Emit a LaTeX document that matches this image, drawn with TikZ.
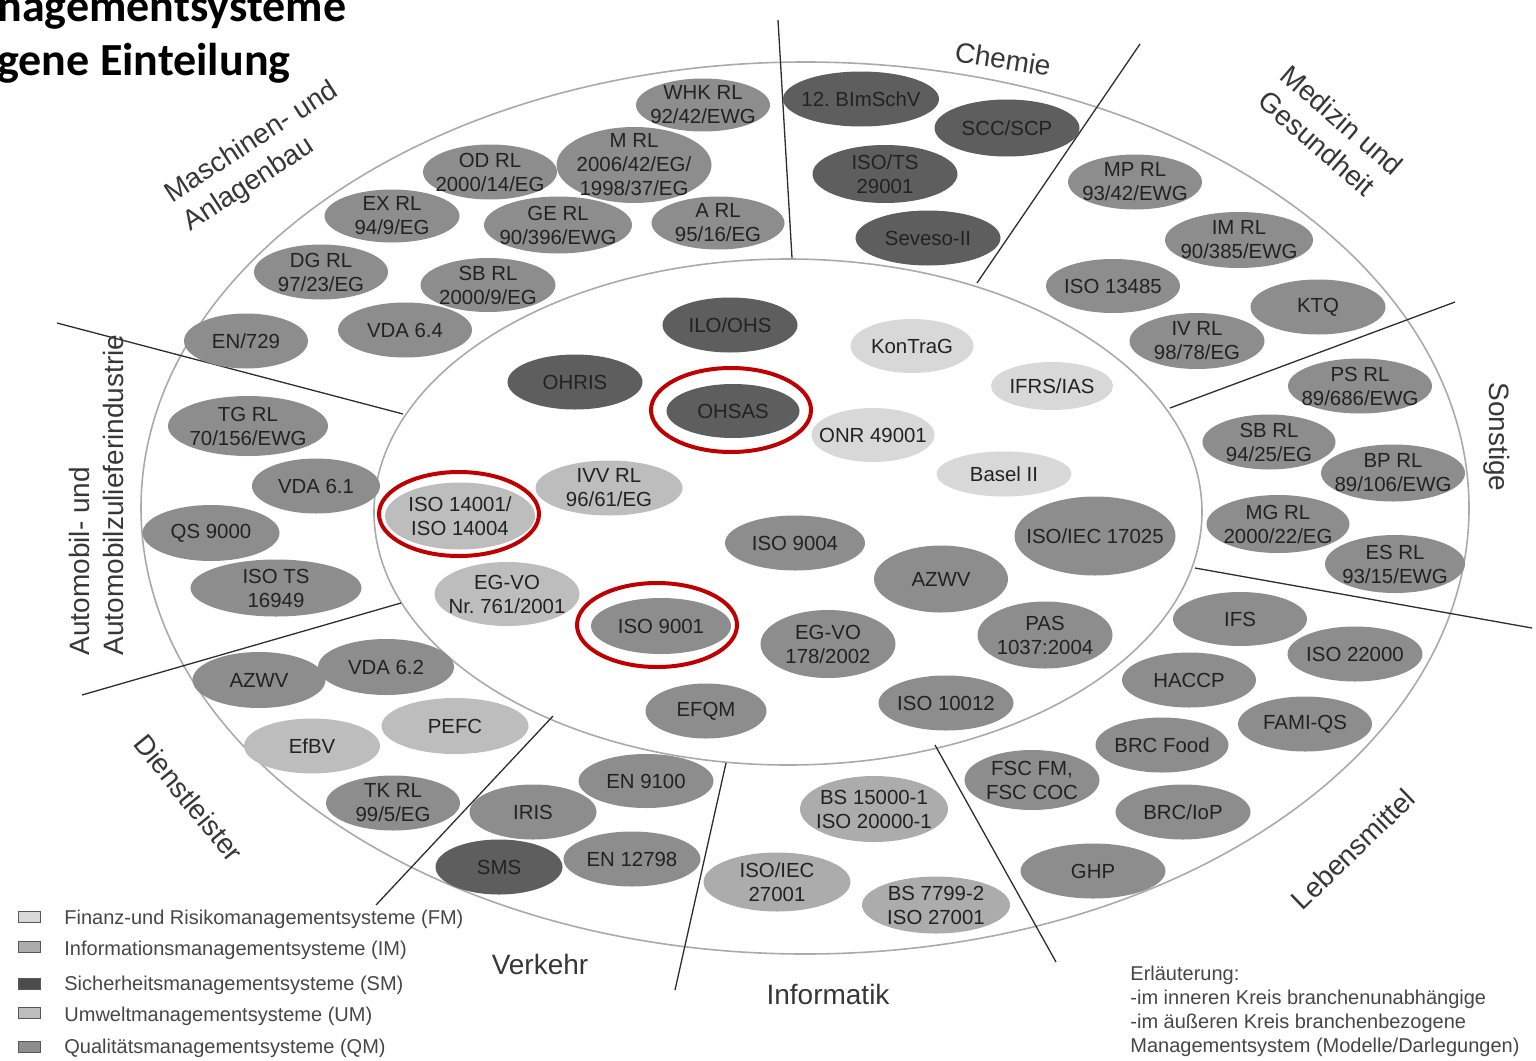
\documentclass[tikz,border=0pt]{standalone}
\usepackage{fontspec}
\setmainfont{Liberation Sans}
\newfontfamily\headfont{Carlito}
\usetikzlibrary{shapes.geometric}

\definecolor{qm}{RGB}{141,141,141}
\definecolor{sm}{RGB}{94,94,94}
\definecolor{um}{RGB}{189,189,189}
\definecolor{im}{RGB}{172,172,172}
\definecolor{fm}{RGB}{216,216,216}
\definecolor{labeltext}{RGB}{34,34,34}
\definecolor{sectortext}{RGB}{55,55,55}
\definecolor{legendtext}{RGB}{70,70,70}
\definecolor{ringgray}{RGB}{170,170,170}
\definecolor{divgray}{RGB}{45,45,45}
\definecolor{hlred}{RGB}{192,0,0}

\tikzset{
  lbl/.style={align=center, inner sep=0pt, text=labeltext,
    font=\fontsize{10.2}{12}\selectfont},
  sector/.style={align=left, inner sep=0pt, text=sectortext,
    font=\fontsize{14}{17}\selectfont},
  ring/.style={draw=ringgray, line width=0.8pt},
  divider/.style={draw=divgray, line width=0.65pt},
  hl/.style={ellipse, draw=hlred, line width=2pt, inner sep=0pt,
    minimum width=80pt, minimum height=42pt},
  legbox/.style={draw=black!65, line width=0.5pt, inner sep=0pt,
    minimum width=11pt, minimum height=5.5pt},
  legtext/.style={anchor=base west, inner sep=0pt, text=legendtext,
    font=\fontsize{10}{12}\selectfont},
  headline/.style={anchor=base west, inner sep=0pt,
    font=\headfont\bfseries\fontsize{23}{28}\selectfont},
}

% \ov{name}{x}{y}{width}{height}{fill}{text}: a filled oval with its caption
\newcommand\ov[7]{%
  \pgfmathsetlengthmacro\ovrx{#4*0.25pt}%
  \pgfmathsetlengthmacro\ovry{#5*0.25pt}%
  \fill[#6] (#2,#3) ellipse [x radius=\ovrx, y radius=\ovry];
  \node[lbl] (#1) at (#2,#3) {#7};}

\begin{document}
\begin{tikzpicture}[x=0.5pt,y=-0.5pt]
\useasboundingbox (0,0) rectangle (1536,1060);

% title lines
\node[headline] (head1) at (-3,21) {nagementsysteme};
\node[headline] (head2) at (-3,75) {gene Einteilung};

% the two rings
\draw[ring] (805,508) ellipse [x radius=332pt, y radius=223pt];
\draw[ring] (788,512) ellipse [x radius=207pt, y radius=126.5pt];

% sector dividers
\coordinate (d1a) at (778,20);   \coordinate (d1b) at (792,258);
\coordinate (d2a) at (1140,44);  \coordinate (d2b) at (977,283);
\coordinate (d3a) at (1455,302); \coordinate (d3b) at (1170,408);
\coordinate (d4a) at (1195,568); \coordinate (d4b) at (1532,628);
\coordinate (d5a) at (935,745);  \coordinate (d5b) at (1056,962);
\coordinate (d6a) at (726,763);  \coordinate (d6b) at (675,990);
\coordinate (d7a) at (553,716);  \coordinate (d7b) at (376,905);
\coordinate (d8a) at (401,603);  \coordinate (d8b) at (82,695);
\coordinate (d9a) at (57,323);   \coordinate (d9b) at (403,414);
\foreach \s in {1,...,9} \draw[divider] (d\s a) -- (d\s b);

% sector captions
\node[sector, rotate=33] (capmasch) at (261,157) {Maschinen- und\\Anlagenbau};
\node[sector, rotate=-9] (capchem) at (1003,59) {Chemie};
\node[sector, rotate=-41] (capmed) at (1331,133) {Medizin und\\Gesundheit};
\node[sector, rotate=-90] (capsonst) at (1497,437) {Sonstige};
\node[sector, rotate=44] (capleb) at (1353,849) {Lebensmittel};
\node[sector] (capinf) at (828,994) {Informatik};
\node[sector] (capverk) at (540,964) {Verkehr};
\node[sector, rotate=-51] (capdienst) at (189,798) {Dienstleister};
\node[sector, rotate=90] (capauto) at (96,495) {Automobil- und\\Automobilzulieferindustrie};

% Maschinen- und Anlagenbau
\ov{whk}{703}{105}{134}{53}{qm}{WHK RL\\92/42/EWG}
\ov{mrl}{634}{165}{155}{76}{qm}{M RL\\2006/42/EG/\\1998/37/EG}
\ov{odrl}{490}{172}{134}{55}{qm}{OD RL\\2000/14/EG}
\ov{exrl}{392}{216}{135}{53}{qm}{EX RL\\94/9/EG}
\ov{gerl}{558}{225}{148}{57}{qm}{GE RL\\90/396/EWG}
\ov{arl}{718}{223}{133}{53}{qm}{A RL\\95/16/EG}
\ov{dgrl}{321}{272}{134}{55}{qm}{DG RL\\97/23/EG}
\ov{sbrlm}{488}{285}{135}{54}{qm}{SB RL\\2000/9/EG}
\ov{vdavier}{405}{330}{134}{55}{qm}{VDA 6.4}
\ov{en}{246}{341}{124}{55}{qm}{EN/729}

% Chemie
\ov{bimsch}{861}{99}{156}{55}{sm}{12.\ BImSchV}
\ov{scc}{1007}{128}{145}{57}{sm}{SCC/SCP}
\ov{isots}{885}{174}{145}{58}{sm}{ISO/TS\\29001}
\ov{seveso}{928}{238}{145}{55}{sm}{Seveso-II}

% Medizin und Gesundheit
\ov{mprl}{1135}{182}{134}{55}{qm}{MP RL\\93/42/EWG}
\ov{imrl}{1239}{240}{148}{56}{qm}{IM RL\\90/385/EWG}
\ov{iso13485}{1113}{286}{134}{54}{qm}{ISO 13485}
\ov{ktq}{1318}{307}{135}{55}{qm}{KTQ}
\ov{ivrl}{1197}{341}{135}{56}{qm}{IV RL\\98/78/EG}

% Sonstige
\ov{psrl}{1360}{386}{144}{55}{qm}{PS RL\\89/686/EWG}
\ov{sbrls}{1269}{442}{133}{55}{qm}{SB RL\\94/25/EG}
\ov{bprl}{1393}{473}{144}{57}{qm}{BP RL\\89/106/EWG}
\ov{mgrl}{1278}{524}{143}{58}{qm}{MG RL\\2000/22/EG}
\ov{esrl}{1395}{564}{140}{58}{qm}{ES RL\\93/15/EWG}

% Lebensmittel
\ov{ifs}{1240}{619}{134}{54}{qm}{IFS}
\ov{isotwentytwo}{1355}{654}{135}{55}{qm}{ISO 22000}
\ov{haccp}{1189}{680}{134}{55}{qm}{HACCP}
\ov{famiqs}{1305}{724}{134}{55}{qm}{FAMI-QS}
\ov{brcfood}{1162}{745}{133}{55}{qm}{BRC Food}
\ov{brciop}{1183}{812}{135}{55}{qm}{BRC/IoP}
\ov{fsc}{1032}{780}{135}{60}{qm}{FSC FM,\\FSC COC}
\ov{ghp}{1093}{871}{145}{55}{qm}{GHP}

% Informatik
\ov{bs}{874}{809}{148}{66}{im}{BS 15000-1\\ISO 20000-1}
\ov{isoiec}{777}{882}{147}{59}{im}{ISO/IEC\\27001}
\ov{bsseven}{936}{905}{148}{57}{im}{BS 7799-2\\ISO 27001}

% Verkehr
\ov{en9100}{646}{781}{135}{54}{qm}{EN 9100}
\ov{iris}{533}{812}{127}{55}{qm}{IRIS}
\ov{en12798}{632}{859}{137}{55}{qm}{EN 12798}
\ov{sms}{499}{867}{127}{55}{sm}{SMS}

% Dienstleister
\ov{azwvd}{259}{680}{133}{56}{qm}{AZWV}
\ov{vdazwei}{386}{667}{136}{56}{qm}{VDA 6.2}
\ov{efbv}{312}{746}{136}{55}{um}{EfBV}
\ov{pefc}{455}{726}{147}{56}{um}{PEFC}
\ov{tkrl}{393}{803}{134}{55}{qm}{TK RL\\99/5/EG}

% Automobil- und Automobilzulieferindustrie
\ov{tgrl}{248}{426}{160}{60}{qm}{TG RL\\70/156/EWG}
\ov{vdaeins}{316}{486}{128}{55}{qm}{VDA 6.1}
\ov{qs}{211}{533}{137}{56}{qm}{QS 9000}
\ov{isots16949}{276}{588}{171}{57}{qm}{ISO TS\\16949}

% inner ring: cross-industry systems
\ov{ilo}{730}{325}{135}{55}{sm}{ILO/OHS}
\ov{ohris}{575}{382}{135}{55}{sm}{OHRIS}
\ov{ohsas}{733}{411}{133}{54}{sm}{OHSAS}
\ov{kontrag}{912}{346}{123}{54}{fm}{KonTraG}
\ov{ifrs}{1052}{386}{122}{48}{fm}{IFRS/IAS}
\ov{onr}{873}{435}{123}{54}{fm}{ONR 49001}
\ov{basel}{1004}{474}{135}{45}{fm}{Basel II}
\ov{ivvrl}{609}{488}{147}{55}{um}{IVV RL\\96/61/EG}
\ov{isoum}{460}{516}{150}{67}{um}{ISO 14001/\\ISO 14004}
\ov{isoninefour}{795}{543}{140}{55}{qm}{ISO 9004}
\ov{isoiecseventeen}{1095}{536}{161}{79}{qm}{ISO/IEC 17025}
\ov{azwvi}{941}{579}{134}{67}{qm}{AZWV}
\ov{egvoum}{507}{594}{145}{64}{um}{EG-VO\\Nr.\ 761/2001}
\ov{isonineone}{661}{626}{140}{56}{qm}{ISO 9001}
\ov{egvoqm}{828}{644}{135}{68}{qm}{EG-VO\\178/2002}
\ov{pas}{1045}{635}{135}{67}{qm}{PAS\\1037:2004}
\ov{efqm}{706}{711}{121}{55}{qm}{EFQM}
\ov{isotenzero}{946}{703}{135}{55}{qm}{ISO 10012}

% highlighted standards
\node[hl] (hlohsas) at (731,410) {};
\node[hl] (hlumwelt) at (459,514) {};
\node[hl] (hlquali) at (657,625) {};

% legend
\node[legbox, fill=fm] (lfm) at (29,917) {};
\node[legbox, fill=im] (lim) at (29,947) {};
\node[legbox, fill=sm!80!black] (lsm) at (29,984) {};
\node[legbox, fill=um] (lum) at (29,1013) {};
\node[legbox, fill=qm] (lqm) at (29,1047) {};
\node[legtext] (tfm) at (64,924) {Finanz-und Risikomanagementsysteme (FM)};
\node[legtext] (tim) at (64,955) {Informationsmanagementsysteme (IM)};
\node[legtext] (tsm) at (64,990) {Sicherheitsmanagementsysteme (SM)};
\node[legtext] (tum) at (64,1021) {Umweltmanagementsysteme (UM)};
\node[legtext] (tqm) at (64,1053) {Qualitätsmanagementsysteme (QM)};

% explanation
\node[legtext] (e1) at (1130,980) {Erläuterung:};
\node[legtext] (e2) at (1130,1004) {-im inneren Kreis branchenunabhängige};
\node[legtext] (e3) at (1130,1028) {-im äußeren Kreis branchenbezogene};
\node[legtext] (e4) at (1130,1052) {Managementsystem (Modelle/Darlegungen)};
\end{tikzpicture}
\end{document}
